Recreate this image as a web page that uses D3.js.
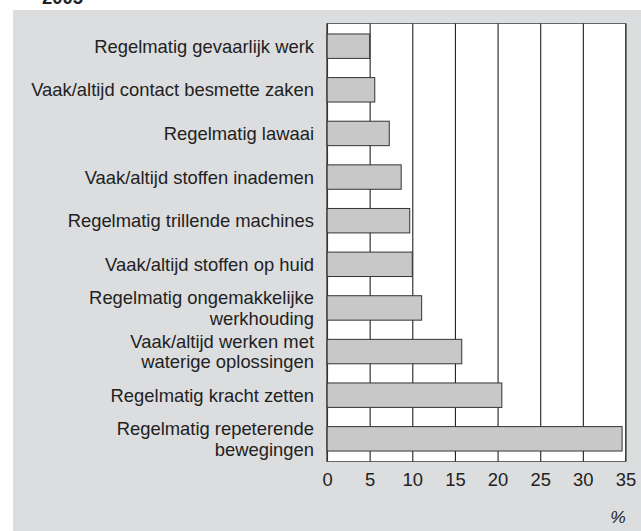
<!DOCTYPE html>
<html><head><meta charset="utf-8">
<script src="https://cdn.jsdelivr.net/npm/d3@7"></script>
<style>body{margin:0;background:#fff}svg{display:block;font-family:"Liberation Sans",Arial,sans-serif}</style>
</head><body>
<script>
const categories = [
  ["Regelmatig gevaarlijk werk"],
  ["Vaak/altijd contact besmette zaken"],
  ["Regelmatig lawaai"],
  ["Vaak/altijd stoffen inademen"],
  ["Regelmatig trillende machines"],
  ["Vaak/altijd stoffen op huid"],
  ["Regelmatig ongemakkelijke", "werkhouding"],
  ["Vaak/altijd werken met", "waterige oplossingen"],
  ["Regelmatig kracht zetten"],
  ["Regelmatig repeterende", "bewegingen"]
];
const values = [5.0, 5.6, 7.3, 8.7, 9.7, 10.0, 11.1, 15.8, 20.5, 34.6];
const xTicks = [0, 5, 10, 15, 20, 25, 30, 35];
const title = "2005";
const unit = "%";

(function () {
const W = 641, H = 531;
const FS = 18.4;
const svg = d3.select("body").append("svg").attr("width", W).attr("height", H);
svg.append("rect").attr("x", 13).attr("y", 10).attr("width", W - 13).attr("height", H - 10).attr("fill", "#dcdddf");
svg.append("text").attr("x", 42).attr("y", 3.5).attr("font-size", FS).attr("font-weight", "bold").attr("fill", "#222").text(title);

const pL = 327, pR = 625.5, pT = 23.5, pB = 461.5;
const x = d3.scaleLinear().domain([0, 35]).range([pL, pR]);
const y = d3.scaleBand().domain(d3.range(categories.length)).range([pT, pB]).paddingInner(0.44).paddingOuter(0.24);

svg.append("rect").attr("x", pL).attr("y", pT).attr("width", pR - pL).attr("height", pB - pT)
  .attr("fill", "#fff").attr("stroke", "#666").attr("stroke-width", 1);

const xAxis = d3.axisBottom(x).tickValues(xTicks).tickSize(-(pB - pT)).tickFormat(d3.format("d"));
const gx = svg.append("g").attr("transform", `translate(0,${pB})`).call(xAxis);
gx.select(".domain").remove();
gx.selectAll(".tick line").attr("stroke", "#222").attr("stroke-width", 1.1);
gx.selectAll(".tick text").attr("font-size", FS).attr("fill", "#222").attr("dy", 0).attr("y", 24.5)
  .style("font-family", "'Liberation Sans',Arial,sans-serif");

svg.selectAll("rect.bar").data(values).join("rect").attr("class", "bar")
  .attr("x", x(0)).attr("y", (d, i) => y(i)).attr("width", d => x(d) - x(0)).attr("height", y.bandwidth())
  .attr("fill", "#c8c8c9").attr("stroke", "#333").attr("stroke-width", 1);

svg.append("line").attr("x1", pL).attr("x2", pL).attr("y1", pT).attr("y2", pB).attr("stroke", "#444").attr("stroke-width", 1);

const lbl = svg.append("g").attr("font-size", FS).attr("fill", "#222").attr("text-anchor", "end");
categories.forEach((lines, i) => {
  const cy = y(i) + y.bandwidth() / 2;
  const n = lines.length;
  lines.forEach((t, j) => {
    lbl.append("text").attr("x", 314).attr("y", cy + (j - (n - 1) / 2) * 20.5 + 6.5).text(t);
  });
});

svg.append("text").attr("x", 618).attr("y", 523).attr("font-size", FS - 1).attr("font-style", "italic").attr("fill", "#222").attr("text-anchor", "middle").text(unit);
})();
</script>
</body></html>
